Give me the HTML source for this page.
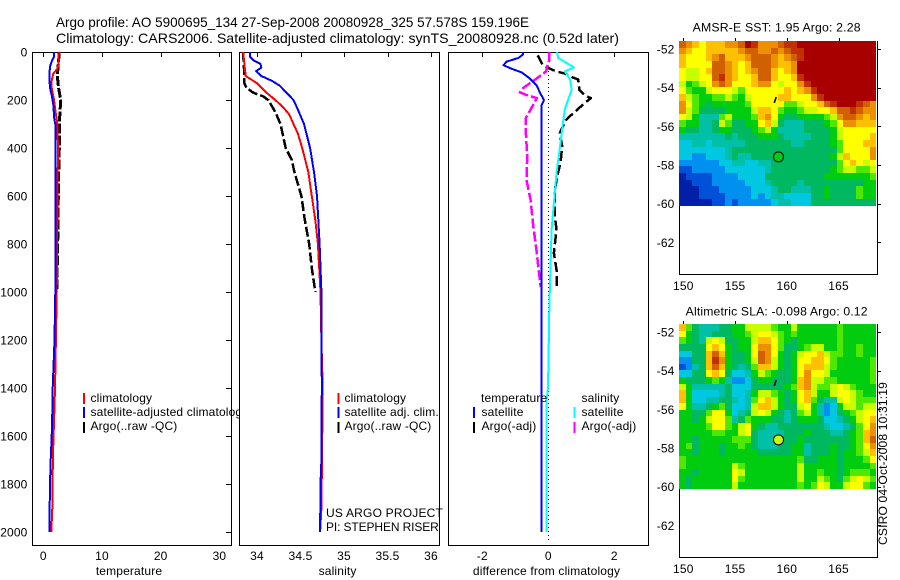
<!DOCTYPE html>
<html lang="en">
<head>
<meta charset="utf-8">
<title>Argo profile comparison</title>
<style>
html,body{margin:0;padding:0;background:#fff;}
svg{display:block;}
text{font-family:"Liberation Sans",sans-serif;font-size:12px;fill:#000;letter-spacing:0.15px;}
.title{font-size:14px;letter-spacing:0;}
.ln{shape-rendering:crispEdges;}
</style>
</head>
<body>
<svg id="chart" xmlns="http://www.w3.org/2000/svg" width="900" height="580" viewBox="0 0 900 580">
  <rect x="0" y="0" width="900" height="580" fill="#fff"/>
  <text class="title" x="56" y="27" textLength="473" lengthAdjust="spacingAndGlyphs">Argo profile: AO 5900695_134 27-Sep-2008 20080928_325 57.578S 159.196E</text>
  <text class="title" x="56" y="43" textLength="563" lengthAdjust="spacingAndGlyphs">Climatology: CARS2006. Satellite-adjusted climatology: synTS_20080928.nc (0.52d later)</text>
  <g id="layer"></g>
  <text x="887" y="545" transform="rotate(-90 887 545)" textLength="163" lengthAdjust="spacingAndGlyphs">CSIRO 04-Oct-2008 10:31:19</text>
</svg>
<script>
// Depth axis
var depthTicks = [0, 200, 400, 600, 800, 1000, 1200, 1400, 1600, 1800, 2000];
var tempTicks = [0, 10, 20, 30];
var salTicks = [34, 34.5, 35, 35.5, 36];
var salTickLabels = ['34', '34.5', '35', '35.5', '36'];
var diffTicks = [-2, 0, 2];
var diffTickLabels = ['-2', '0', '2'];
var lonTicks = [150, 155, 160, 165];
var latTicks = [52, 54, 56, 58, 60, 62];

// Temperature profiles
var tempArgoDepth = [0, 50, 100, 150, 200, 300, 400, 500, 600, 800, 1000];
var tempArgo = [2.73, 2.56, 2.39, 2.6, 2.96, 2.73, 2.73, 2.62, 2.56, 2.45, 2.28];
var tempClimDepth = [0, 10, 50, 70, 90, 120, 150, 200, 250, 300, 400, 500, 700, 1000, 1200, 1400, 1500, 1700, 1800, 1900, 2000];
var tempClim = [2.85, 2.62, 2.62, 2.39, 1.71, 1.43, 1.43, 1.82, 2.1, 2.39, 2.5, 2.45, 2.39, 2.28, 2.15, 2.0, 1.88, 1.62, 1.6, 1.54, 1.37];
var tempSatDepth = [0, 20, 40, 60, 100, 150, 180, 220, 280, 300, 400, 600, 800, 1000, 1200, 1400, 1500, 1600, 1700, 1800, 2000];
var tempSat = [1.88, 1.82, 1.43, 1.14, 1.03, 1.14, 1.43, 1.71, 1.88, 2.05, 2.1, 2.1, 2.05, 2.05, 1.9, 1.6, 1.54, 1.43, 1.26, 1.14, 1.03];

// Salinity profiles
var salClimDepth = [0, 100, 130, 170, 200, 230, 260, 300, 340, 400, 500, 600, 700, 800, 1000, 1200, 1400, 1700, 1900, 2000];
var salClim = [33.84, 33.87, 34.0, 34.11, 34.21, 34.3, 34.37, 34.42, 34.47, 34.52, 34.59, 34.63, 34.67, 34.7, 34.73, 34.74, 34.755, 34.747, 34.74, 34.725];
var salSatDepth = [0, 20, 35, 50, 65, 80, 100, 120, 140, 170, 200, 240, 300, 400, 500, 600, 800, 1000, 1400, 1700, 1800, 2000];
var salSat = [33.92, 33.92, 33.96, 34.04, 34.05, 33.99, 34.05, 34.17, 34.26, 34.34, 34.42, 34.47, 34.54, 34.61, 34.655, 34.69, 34.72, 34.74, 34.745, 34.74, 34.73, 34.725];
var salArgoDepth = [0, 100, 130, 150, 170, 185, 200, 250, 300, 400, 450, 500, 600, 700, 800, 900, 1000];
var salArgo = [33.84, 33.855, 33.855, 33.88, 33.96, 34.07, 34.13, 34.21, 34.27, 34.33, 34.4, 34.43, 34.51, 34.55, 34.6, 34.63, 34.67];

// Differences from climatology
var diffTempSatDepth = [0, 10, 25, 40, 55, 70, 85, 110, 140, 170, 200, 220, 1000, 2000];
var diffTempSat = [-0.78, -0.76, -0.91, -1.26, -1.36, -1.11, -0.81, -0.56, -0.35, -0.25, -0.13, -0.2, -0.2, -0.2];
var diffSalSatDepth = [0, 25, 64, 81, 115, 157, 199, 240, 310, 421, 504, 629, 740, 879, 1073, 1400, 1450, 2000];
var diffSalSat = [0.27, 0.3, 0.78, 0.5, 0.66, 0.71, 0.6, 0.5, 0.43, 0.33, 0.25, 0.17, 0.1, 0.07, 0.03, -0.01, -0.05, -0.05];
var diffTempArgoDepth = [14, 46, 60, 76, 83, 90, 104, 115, 157, 182, 192, 212, 261, 282, 338, 393, 463, 518, 574, 685, 740, 838, 907, 983];
var diffTempArgo = [-0.32, -0.2, -0.1, 0.15, 0.3, 0.5, 0.71, 0.91, 0.94, 1.11, 1.29, 1.11, 0.71, 0.54, 0.35, 0.42, 0.37, 0.27, 0.2, 0.2, 0.25, 0.17, 0.25, 0.25];
var diffSalArgoDepth = [1, 39, 81, 115, 150, 168, 182, 192, 219, 275, 338, 435, 533, 615, 729, 813, 897, 980];
var diffSalArgo = [0.02, 0.02, -0.07, -0.4, -0.76, -0.86, -0.61, -0.35, -0.45, -0.68, -0.68, -0.64, -0.66, -0.54, -0.45, -0.37, -0.3, -0.23];

// Map point and track
var profileLon = 159.196;
var profileLat = 57.578;
var trackLon = [158.79, 158.98];
var trackLat = [54.79, 54.48];
var sstProfileLevel = 6;
var slaProfileLevel = 8;

// SST map, colour level per grid cell
var sstLevels = [
[12,11,10,9,10,10,10,11,11,12,14,13,11,11,11,12,13,13,14,14,14,14,14,14,14,14,14,14,14,14],
[11,10,9,9,10,10,10,10,10,11,12,12,11,11,12,11,12,13,13,14,14,14,14,14,14,14,14,14,14,14],
[10,9,9,9,10,11,12,10,10,10,11,12,12,12,11,10,11,12,13,14,14,14,14,14,14,14,14,14,14,14],
[10,9,9,9,9,12,12,11,10,9,10,12,12,12,11,10,10,11,14,14,14,14,14,14,14,14,14,14,14,14],
[9,8,8,9,10,12,12,11,10,9,10,11,12,12,10,9,10,11,14,14,14,14,14,14,14,14,14,14,14,14],
[9,8,8,9,9,12,13,11,10,9,9,10,12,12,10,9,9,10,13,14,14,14,14,14,14,14,14,14,14,14],
[8,6,7,8,9,11,12,11,9,9,9,10,11,11,9,8,9,9,11,13,14,14,14,14,14,14,14,14,14,14],
[9,7,6,6,8,9,9,9,8,7,9,9,9,9,9,9,10,9,10,11,13,14,14,14,14,14,14,14,14,14],
[10,8,7,6,6,7,7,8,7,6,8,9,9,9,9,10,10,9,9,9,11,13,14,14,14,14,14,14,14,14],
[11,9,7,6,5,6,6,6,6,6,7,9,9,9,9,9,7,7,8,9,9,10,12,13,14,14,14,13,12,11],
[11,8,7,5,5,5,5,6,6,6,6,8,10,10,9,7,6,6,7,8,8,9,9,10,12,12,13,12,11,11],
[9,8,6,4,4,4,7,8,6,6,6,7,10,11,9,6,5,5,6,6,6,6,7,8,11,12,12,11,10,11],
[7,6,6,4,4,5,8,7,5,5,6,6,9,10,8,5,4,4,4,5,5,5,6,7,9,11,11,10,10,10],
[6,5,5,4,4,5,6,6,5,5,5,6,7,8,6,4,4,4,4,5,5,5,5,6,8,9,9,9,9,9],
[4,4,4,4,4,4,4,5,4,5,5,5,6,6,6,5,4,4,4,4,5,5,5,6,8,9,9,9,9,10],
[3,3,4,4,3,4,4,4,4,4,5,5,5,5,5,5,5,4,4,5,5,5,5,6,7,9,9,9,10,10],
[3,3,3,3,3,3,3,4,5,5,5,5,5,5,5,5,5,5,5,5,5,5,5,5,7,9,9,9,9,11],
[3,3,2,2,3,3,3,4,5,4,4,5,5,5,5,5,5,5,5,5,5,5,5,6,8,10,9,9,9,11],
[2,2,2,2,2,2,3,3,4,4,3,3,4,4,5,5,5,5,5,5,5,5,5,5,7,9,10,9,8,9],
[1,1,2,2,2,2,2,3,3,3,3,3,3,4,5,5,5,5,5,5,5,5,5,6,7,8,8,7,7,8],
[0,1,1,1,1,2,2,2,2,3,3,3,3,5,5,5,5,5,5,5,5,5,6,6,6,6,6,6,6,7],
[0,0,1,1,1,2,2,2,2,2,3,3,3,4,5,5,5,5,4,5,5,5,5,5,5,5,5,5,6,6],
[0,0,0,1,1,1,2,2,2,2,2,3,3,3,4,5,5,4,4,4,5,5,6,5,5,5,5,7,6,6],
[0,0,0,1,1,1,1,2,2,2,2,3,2,3,4,4,3,3,3,3,5,5,6,5,5,5,5,7,6,6],
[0,0,0,0,0,1,1,2,1,2,2,2,2,2,3,4,4,3,3,3,5,5,5,5,5,5,5,5,5,5]
];

// SLA map, colour level per grid cell
var slaLevels = [
[10,7,5,4,4,4,5,5,6,6,8,8,8,8,7,6,6,8,6,6,6,6,6,6,7,6,6,6,6,6],
[9,6,5,4,4,5,5,5,6,6,7,8,9,9,8,7,6,7,6,6,6,6,6,6,7,6,6,6,6,6],
[7,6,5,4,8,9,8,5,5,6,6,8,10,10,9,7,6,5,6,6,6,6,6,6,7,6,6,6,6,6],
[5,5,5,5,9,10,9,6,5,6,6,9,11,11,9,7,5,5,6,7,8,8,6,6,7,6,6,7,6,6],
[3,3,5,5,10,12,10,6,5,5,6,9,12,11,9,6,5,6,8,9,9,10,8,7,7,6,6,7,6,6],
[2,2,5,5,10,13,11,6,5,5,6,8,12,11,8,6,5,6,9,9,10,10,9,7,6,6,6,6,6,7],
[1,2,4,5,10,12,10,6,5,4,5,7,10,10,8,6,5,6,9,10,10,10,8,7,6,6,6,6,6,7],
[3,3,5,5,9,10,9,5,3,3,4,6,8,7,6,5,5,6,9,11,9,9,8,6,6,6,6,6,6,7],
[6,5,5,5,6,7,6,4,2,2,3,5,6,6,5,5,5,6,10,11,8,8,7,7,6,6,6,6,6,7],
[8,6,4,4,4,4,4,5,3,3,3,5,5,5,5,5,6,7,10,11,8,7,7,8,9,8,7,6,6,6],
[10,6,3,3,3,3,4,5,3,3,4,6,8,8,7,6,5,6,9,10,8,6,6,8,9,9,8,7,6,6],
[10,6,3,3,4,4,5,5,4,3,4,7,9,10,8,6,5,6,9,10,7,5,4,4,8,9,8,7,7,7],
[9,6,4,4,5,6,7,5,3,3,4,8,10,10,8,6,5,5,8,9,6,4,2,3,6,8,8,7,8,8],
[6,6,5,5,7,9,9,6,3,4,5,8,9,8,6,5,4,5,7,8,6,4,2,3,5,6,7,8,9,9],
[6,6,5,6,8,9,9,7,4,5,7,6,6,6,5,5,4,5,6,6,6,5,3,3,4,5,6,8,9,10],
[6,6,6,6,7,9,9,7,6,8,9,6,5,4,4,5,5,5,5,5,5,5,4,3,3,4,5,7,9,11],
[6,6,6,6,6,7,7,6,6,8,9,5,4,4,4,4,5,5,5,6,5,5,5,4,4,5,6,7,10,11],
[6,6,5,6,6,6,6,6,7,7,7,5,4,4,4,5,5,5,6,5,5,5,5,5,5,5,6,7,10,12],
[6,7,5,6,6,6,5,6,6,7,6,5,4,4,4,5,5,6,6,4,5,5,5,6,5,5,6,7,9,11],
[6,6,5,6,6,6,5,6,6,6,6,6,5,5,5,5,5,6,6,4,5,5,5,6,5,6,6,7,8,10],
[7,6,6,6,6,6,6,6,6,6,6,6,6,6,6,6,6,6,7,5,5,6,6,6,5,6,6,6,7,9],
[7,6,6,6,6,6,6,6,8,7,6,6,6,6,6,6,6,6,8,6,6,6,6,6,5,6,6,6,6,7],
[6,6,5,6,6,6,6,6,9,8,6,6,6,6,6,6,6,6,8,6,6,7,6,6,5,6,7,7,7,6],
[6,5,6,6,6,6,6,6,9,7,6,6,6,6,6,6,6,6,8,6,6,8,7,6,5,7,8,9,8,7],
[6,5,6,6,6,6,6,6,8,6,6,6,6,6,6,6,6,6,7,6,7,9,8,6,6,8,9,9,7,6]
];

var palette = ['#0020a8','#0050d8','#0090f0','#00c8e0','#00c0a8','#00b860','#00cc10','#50e800','#c8ff00','#ffff00','#ffc000','#ec9000','#d06000','#c03000','#a80000'];

var NS = 'http://www.w3.org/2000/svg';
var layer = document.getElementById('layer');

function make(tag, name, parent) {
  var el = document.createElementNS(NS, tag);
  
  
  (parent || layer).appendChild(el);
  return el;
}
function label(name, str, x, y, anchor, parent) {
  var t = make('text', name, parent);
  t.setAttribute('x', x);
  t.setAttribute('y', y);
  if (anchor) t.setAttribute('text-anchor', anchor);
  t.textContent = str;
  return t;
}
function seg(name, x1, y1, x2, y2, parent) {
  var l = make('line', name, parent);
  l.setAttribute('x1', x1);
  l.setAttribute('y1', y1);
  l.setAttribute('x2', x2);
  l.setAttribute('y2', y2);
  l.setAttribute('stroke', '#000');
  l.setAttribute('stroke-width', 1);
  l.setAttribute('class', 'ln');
  return l;
}
function box(name, x, y, w, h, fill, parent) {
  var r = make('rect', name, parent);
  r.setAttribute('x', x);
  r.setAttribute('y', y);
  r.setAttribute('width', w);
  r.setAttribute('height', h);
  r.setAttribute('fill', fill);
  r.setAttribute('class', 'ln');
  return r;
}

var depthY = function (d) { return 52 + 0.24 * d; };
var tempX = function (v) { return 43.3 + 5.87 * v; };
var salX = function (v) { return 257 + 87 * (v - 34); };
var diffX = function (v) { return 548.3 + 33 * v; };

function series(name, xs, ds, xf, color, width, dash, parent) {
  var p = make('polyline', name, parent);
  var pts = [];
  for (var i = 0; i < xs.length; i++) {
    pts.push(xf(xs[i]).toFixed(1) + ',' + depthY(ds[i]).toFixed(1));
  }
  p.setAttribute('points', pts.join(' '));
  p.setAttribute('fill', 'none');
  p.setAttribute('stroke', color);
  p.setAttribute('stroke-width', width);
  p.setAttribute('stroke-linejoin', 'round');
  p.setAttribute('class', 'ln');
  if (dash) p.setAttribute('stroke-dasharray', dash);
  return p;
}

function panel(name, left, right, xf, ticks, tickLabels, xTitle, titleX) {
  var g = make('g', name);
  box(name + '-background', left, 52, right - left, 493, '#fff', g);
  var i, x;
  for (i = 0; i < ticks.length; i++) {
    x = Math.round(xf(ticks[i])) + 0.5;
    seg(name + '-top-tick', x, 52, x, 57, g);
    label(name + '-x-tick-label', tickLabels[i], xf(ticks[i]), 560, 'middle', g);
  }
  seg(name + '-axis-left', left + 0.5, 52, left + 0.5, 546, g);
  seg(name + '-axis-right', right + 0.5, 52, right + 0.5, 546, g);
  seg(name + '-axis-top', left, 52.5, right + 1, 52.5, g);
  seg(name + '-axis-bottom', left, 545.5, right + 1, 545.5, g);
  label(name + '-x-axis-title', xTitle, titleX, 575, 'middle', g);
  return g;
}
function legendBar(name, x, y, color, parent) {
  return box(name, x, y, 2, 11, color, parent);
}

// Temperature panel
var p1 = panel('temperature-panel', 32, 231, tempX, tempTicks, tempTicks, 'temperature', 129);
depthTicks.forEach(function (d) {
  var y = Math.round(depthY(d)) + 0.5;
  seg('depth-tick', 226, y, 231, y, p1);
  label('depth-tick-label', String(d), 27.5, depthY(d) + 4.5, 'end', p1);
});
series('temperature-argo-line', tempArgo, tempArgoDepth, tempX, '#000', 3, '10 2', p1);
series('temperature-climatology-line', tempClim, tempClimDepth, tempX, '#f00', 2, null, p1);
series('temperature-satellite-line', tempSat, tempSatDepth, tempX, '#00f', 2, null, p1);
legendBar('legend-climatology-swatch', 83, 393, '#f00', p1);
legendBar('legend-satellite-swatch', 83, 407, '#00f', p1);
legendBar('legend-argo-swatch', 83, 422, '#000', p1);
label('legend-climatology', 'climatology', 90.5, 402, null, p1);
label('legend-satellite-adjusted', 'satellite-adjusted climatology', 90.5, 416, null, p1);
label('legend-argo', 'Argo(..raw -QC)', 90.5, 430, null, p1);

// Salinity panel
var p2 = panel('salinity-panel', 239, 439, salX, salTicks, salTickLabels, 'salinity', 337.6);
series('salinity-argo-line', salArgo, salArgoDepth, salX, '#000', 2.5, '10 3', p2);
series('salinity-climatology-line', salClim, salClimDepth, salX, '#f00', 2, null, p2);
series('salinity-satellite-line', salSat, salSatDepth, salX, '#00f', 2, null, p2);
legendBar('salinity-legend-climatology-swatch', 337.5, 393, '#f00', p2);
legendBar('salinity-legend-satellite-swatch', 337.5, 407, '#00f', p2);
legendBar('salinity-legend-argo-swatch', 337.5, 422, '#000', p2);
label('salinity-legend-climatology', 'climatology', 344.5, 402, null, p2);
label('salinity-legend-satellite', 'satellite adj. clim.', 344.5, 416, null, p2);
label('salinity-legend-argo', 'Argo(..raw -QC)', 344.5, 430, null, p2);
var creditA = label('project-credit', 'US ARGO PROJECT', 326, 517, null, p2);
creditA.setAttribute('textLength', 117);
var creditB = label('pi-credit', 'PI: STEPHEN RISER', 326, 531, null, p2);
creditB.setAttribute('textLength', 113);

// Difference panel
var p3 = panel('difference-panel', 448, 648, diffX, diffTicks, diffTickLabels, 'difference from climatology', 546.5);
var zero = seg('zero-reference-line', diffX(0), depthY(80), diffX(0), 541, p3);
zero.setAttribute('stroke-dasharray', '1 3');
series('difference-temperature-argo-line', diffTempArgo, diffTempArgoDepth, diffX, '#000', 2.5, '10 4', p3);
series('difference-salinity-argo-line', diffSalArgo, diffSalArgoDepth, diffX, '#f0f', 2.5, '10 3', p3);
series('difference-temperature-satellite-line', diffTempSat, diffTempSatDepth, diffX, '#00f', 2, null, p3);
series('difference-salinity-satellite-line', diffSalSat, diffSalSatDepth, diffX, '#0ff', 2, null, p3);
legendBar('difference-legend-temperature-satellite-swatch', 473, 407, '#00f', p3);
legendBar('difference-legend-temperature-argo-swatch', 473, 422, '#000', p3);
legendBar('difference-legend-salinity-satellite-swatch', 573.5, 407, '#0ff', p3);
legendBar('difference-legend-salinity-argo-swatch', 573.5, 422, '#f0f', p3);
label('difference-legend-temperature-heading', 'temperature', 481, 402, null, p3);
label('difference-legend-temperature-satellite', 'satellite', 481.5, 416, null, p3);
label('difference-legend-temperature-argo', 'Argo(-adj)', 481.5, 430, null, p3);
label('difference-legend-salinity-heading', 'salinity', 581.5, 402, null, p3);
label('difference-legend-salinity-satellite', 'satellite', 581.5, 416, null, p3);
label('difference-legend-salinity-argo', 'Argo(-adj)', 581.5, 430, null, p3);

// Maps
function drawMap(name, top, titleStr, titleX, titleY, titleLen, grid, pointLevel) {
  var g = make('g', name);
  var bottom = top + 232.5;
  var lonX = function (lon) { return 683.3 + (lon - 150) * 10.35; };
  var latY = function (lat) { return top + 8 + (lat - 52) * 19.33; };
  var lonA = 149.61, lonB = 168.63, latA = 51.6, latB = 60.12;
  var nr = grid.length;
  var i, j;
  for (j = 0; j < nr; j++) {
    var nc = grid[j].length;
    for (i = 0; i < nc; i++) {
      var x0 = Math.round(lonX(lonA + (lonB - lonA) * i / nc));
      var x1 = Math.round(lonX(lonA + (lonB - lonA) * (i + 1) / nc));
      var y0 = Math.round(latY(latA + (latB - latA) * j / nr));
      var y1 = Math.round(latY(latA + (latB - latA) * (j + 1) / nr));
      box(name + '-cell', x0, y0, x1 - x0, y1 - y0, palette[grid[j][i]], g);
    }
  }
  var right = 877.5, left = 679.5, b = Math.round(bottom) + 0.5;
  seg(name + '-axis-left', left, Math.round(latY(latB)), left, b + 0.5, g);
  seg(name + '-axis-right', right, top, right, b + 0.5, g);
  seg(name + '-axis-bottom', left, b, right + 0.5, b, g);
  lonTicks.forEach(function (lon) {
    var x = Math.round(lonX(lon)) + 0.5;
    seg(name + '-top-tick', x, top - 3, x, top, g);
    label(name + '-lon-label', String(lon), lonX(lon), b + 15.5, 'middle', g);
  });
  latTicks.forEach(function (lat) {
    var y = Math.round(latY(lat)) + 0.5;
    seg(name + '-right-tick', 878, y, 881, y, g);
    label(name + '-lat-label', '-' + lat, 674.5, latY(lat) + 4.5, 'end', g);
  });
  var track = make('polyline', name + '-float-track', g);
  track.setAttribute('points', lonX(trackLon[0]) + ',' + latY(trackLat[0]) + ' ' + lonX(trackLon[1]) + ',' + latY(trackLat[1]));
  track.setAttribute('fill', 'none');
  track.setAttribute('stroke', '#000');
  track.setAttribute('stroke-width', 1.6);
  var c = make('circle', name + '-profile-marker', g);
  c.setAttribute('cx', lonX(profileLon));
  c.setAttribute('cy', latY(profileLat));
  c.setAttribute('r', 5);
  c.setAttribute('fill', palette[pointLevel]);
  c.setAttribute('stroke', '#000');
  c.setAttribute('stroke-width', 1);
  var t = label(name + '-title', titleStr, titleX, titleY, null, g);
  t.setAttribute('textLength', titleLen);
  t.setAttribute('lengthAdjust', 'spacingAndGlyphs');
}
drawMap('sst-map', 41, 'AMSR-E SST: 1.95 Argo: 2.28', 692.7, 31.5, 168, sstLevels, sstProfileLevel);
drawMap('sla-map', 324, 'Altimetric SLA: -0.098 Argo: 0.12', 685.7, 315.5, 182, slaLevels, slaProfileLevel);
</script>
</body>
</html>
